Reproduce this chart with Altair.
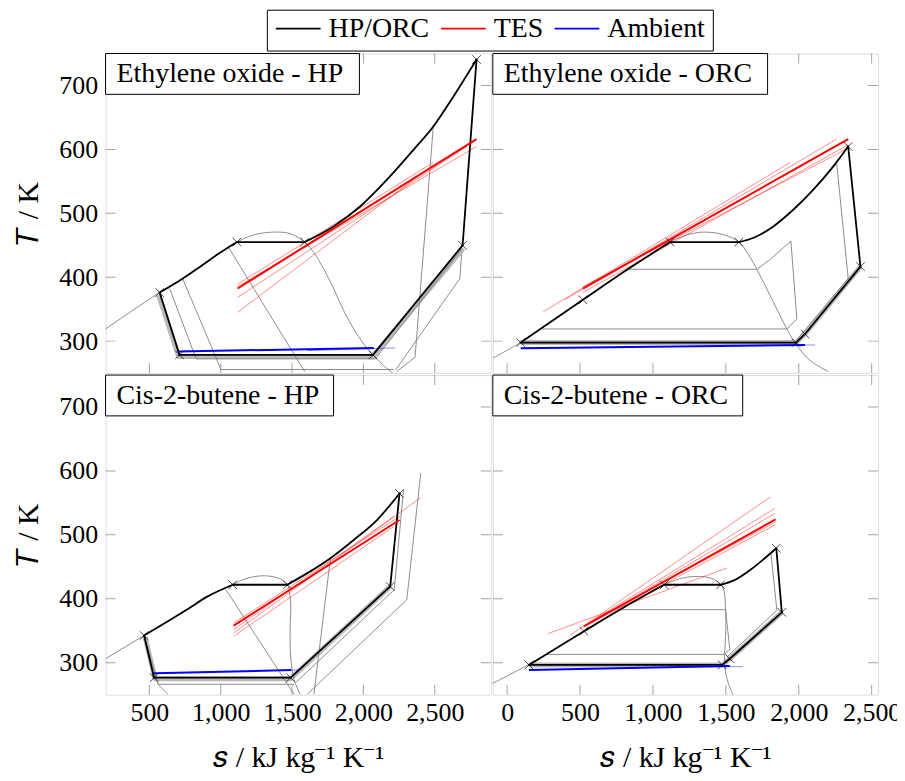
import altair as alt
import pandas as pd

FONT = "Liberation Serif"
FS = 26

# ---------------- axes / legend ----------------
X_TICKS_LEFT = [500, 1000, 1500, 2000, 2500]
X_TICKS_RIGHT = [0, 500, 1000, 1500, 2000, 2500]
Y_TICKS = [300, 400, 500, 600, 700]
X_DOMAIN_LEFT = [193, 2893]
X_DOMAIN_RIGHT = [-98, 2544]
Y_DOMAIN = [250, 750]
SERIES = ["HP/ORC", "TES", "Ambient"]
SERIES_COLORS = ["black", "red", "blue"]
TITLES = ["Ethylene oxide - HP", "Ethylene oxide - ORC", "Cis-2-butene - HP", "Cis-2-butene - ORC"]

# ---------------- Ethylene oxide - HP ----------------
EO_HP_CYCLE_S = [[572, 735, 863, 979, 1114], [1114, 1588], [1588, 1793, 1979, 2165, 2351, 2490, 2630, 2793],
                 [2695, 2793], [2067, 2695], [711, 2067], [572, 711]]
EO_HP_CYCLE_T = [[376, 398, 417.6, 435.8, 455], [455, 455], [455, 479.9, 511.1, 552.6, 599.3, 635.7, 682.4, 740.6],
                 [449.8, 740.6], [278.5, 449.8], [278.5, 278.5], [376, 278.5]]
EO_HP_MARK_S = [572, 1114, 1588, 2793, 2695, 2067, 711]
EO_HP_MARK_T = [376, 455, 455, 740.6, 449.8, 278.5, 278.5]
EO_HP_TES_S = [[1118, 2793], [1118, 2490], [1118, 2723], [1118, 2490], [1118, 2793]]
EO_HP_TES_T = [[382.3, 616], [389.1, 579.6], [368.3, 604.5], [345, 576], [385.4, 604.5]]
EO_HP_AMB_S = [[705, 2072], [1607, 2223]]
EO_HP_AMB_T = [[283.7, 289.4], [285.2, 289.4]]
EO_HP_DOME_S = [165, 572, 735, 863, 979, 1114, 1235, 1374, 1490, 1588, 1653, 1723, 1793, 1862, 1932, 2002, 2067, 2141, 2211]
EO_HP_DOME_T = [314.8, 376.1, 397.9, 417.6, 435.8, 455, 466.4, 470.6, 468, 455, 438.4, 412.4, 381.3, 347.5, 319, 295.6, 278.5, 261.9, 248.9]
EO_HP_GRAY_S = [[1049, 1588], [735, 1002], [642, 828], [828, 2083], [1002, 2211],
                [2490, 2362, 2234], [2688, 2676, 2223], [2083, 2688]]
EO_HP_GRAY_T = [[448.8, 252.5], [396.8, 255.6], [382.3, 272.2], [272.2, 272.2], [255.6, 255.6],
                [636, 274.8, 252.5], [435.8, 397.9, 254.1], [272.2, 443.6]]
EO_HP_BAND_S = [[565, 705, 2067, 2700]]
EO_HP_BAND_T = [[372, 276, 276, 445]]

# ---------------- Ethylene oxide - ORC ----------------
EO_ORC_CYCLE_S = [[93, 520, 827, 1118], [1118, 1589], [1589, 1691, 1828, 1964, 2100, 2237, 2339],
                  [2339, 2423], [2043, 2423], [1982, 2043], [93, 1982]]
EO_ORC_CYCLE_T = [[297.7, 364.7, 412.4, 455], [455, 455], [455, 461.8, 479.9, 505.9, 537, 573.4, 604.5],
                  [604.5, 416.6], [311.2, 416.6], [297.7, 311.2], [297.7, 297.7]]
EO_ORC_MARK_S = [93, 520, 1118, 1589, 2339, 2423, 2043, 1982]
EO_ORC_MARK_T = [297.7, 364.7, 455, 455, 604.5, 416.6, 311.2, 297.7]
EO_ORC_TES_S = [[520, 2339], [248, 1941], [395, 2259], [520, 2339], [520, 2339]]
EO_ORC_TES_T = [[382.3, 616], [346, 579.6], [364.7, 616], [376.1, 607.1], [385.4, 601.9]]
EO_ORC_AMB_S = [[93, 2043], [1900, 2112]]
EO_ORC_AMB_T = [[288.9, 294], [293.5, 294]]
EO_ORC_DOME_S = [-127.5, 93, 520, 827, 1118, 1236, 1350, 1487, 1589, 1668, 1759, 1850, 1918, 1987, 2078, 2203]
EO_ORC_DOME_T = [269.7, 298.2, 364.7, 412.4, 455, 466.4, 470.6, 466.4, 455, 430.6, 391.7, 350.1, 319, 293, 269.7, 252.5]
EO_ORC_GRAY_S = [[827, 1714, 1805, 1946, 1987, 1918, 236], [2259, 2339, 1987]]
EO_ORC_GRAY_T = [[412.4, 412.4, 428, 456.6, 334.6, 319, 319], [581.2, 397.9, 302.4]]
EO_ORC_BAND_S = [[93, 1982, 2043, 2423]]
EO_ORC_BAND_T = [[297.7, 297.7, 311.2, 416.6]]

# ---------------- Cis-2-butene - HP ----------------
C2B_HP_CYCLE_S = [[463, 630, 770, 909, 1084], [1084, 1467], [1467, 1607, 1769, 1932, 2095, 2253],
                  [2188, 2253], [1490, 2188], [533, 1490], [463, 533]]
C2B_HP_CYCLE_T = [[342.5, 364.8, 384, 403.7, 421.9], [421.9, 421.9], [421.9, 440.1, 463.5, 492, 523.2, 564.7],
                  [419.3, 564.7], [276.5, 419.3], [276.5, 276.5], [342.5, 276.5]]
C2B_HP_MARK_S = [463, 1084, 1467, 2253, 2188, 1490, 533]
C2B_HP_MARK_T = [342.5, 421.9, 421.9, 564.7, 419.3, 276.5, 276.5]
C2B_HP_TES_S = [[1091, 2253], [1091, 2211], [1091, 2211], [1091, 2402], [1091, 2258]]
C2B_HP_TES_T = [[358, 523.2], [351.8, 528.4], [341.4, 512.8], [346.6, 558.5], [362.2, 529.4]]
C2B_HP_AMB_S = [[533, 1495], [1400, 1549]]
C2B_HP_AMB_T = [[283.3, 288.5], [288, 288.5]]
C2B_HP_DOME_S = [165, 463, 630, 770, 909, 1084, 1165, 1305, 1421, 1467, 1490, 1486, 1490, 1514, 1560]
C2B_HP_DOME_T = [302.5, 342.5, 364.8, 384, 403.7, 421.9, 430.8, 436, 430.8, 421.9, 393.4, 351.8, 310.3, 273.9, 249]
C2B_HP_GRAY_S = [[1037, 1514], [463, 560, 630], [560, 1514], [1769, 1653],
                 [2402, 2304, 1607], [2281, 2216, 1525]]
C2B_HP_GRAY_T = [[414.1, 250.6], [342.5, 266.2, 250.6], [266.2, 266.2], [463.5, 250.6],
                 [596.9, 398.6, 250.6], [569.9, 414.1, 268.8]]
C2B_HP_BAND_S = [[470, 540, 1490, 2188]]
C2B_HP_BAND_T = [[340, 275, 275, 419.3]]

# ---------------- Cis-2-butene - ORC ----------------
C2B_ORC_CYCLE_S = [[150, 527, 805, 1077], [1077, 1464], [1464, 1555, 1668, 1759, 1846],
                   [1846, 1884], [1527, 1884], [1475, 1527], [150, 1475]]
C2B_ORC_CYCLE_T = [[296.5, 349.2, 387.1, 421.9], [421.9, 421.9], [421.9, 428.7, 445.3, 461.9, 479],
                   [479, 378.8], [306.1, 378.8], [296.5, 306.1], [296.5, 296.5]]
C2B_ORC_MARK_S = [150, 527, 1077, 1464, 1846, 1884, 1527, 1475]
C2B_ORC_MARK_T = [296.5, 349.2, 421.9, 421.9, 479, 378.8, 306.1, 296.5]
C2B_ORC_TES_S = [[527, 1841], [430, 1807], [282, 1507], [560, 1837], [540, 1837], [600, 1841], [520, 1841]]
C2B_ORC_TES_T = [[357, 524.3], [342.5, 559.5], [345.6, 448], [362, 541.4], [358, 533.6], [368, 520], [355, 516]]
C2B_ORC_AMB_S = [[150, 1527], [1400, 1618]]
C2B_ORC_AMB_T = [[288.5, 294.7], [294, 293.7]]
C2B_ORC_DOME_S = [-127.5, 150, 527, 805, 1077, 1236, 1396, 1475, 1498, 1498, 1491, 1509, 1550]
C2B_ORC_DOME_T = [264.6, 297.3, 349.2, 387.1, 421.9, 433.9, 432.3, 419.3, 383, 341.4, 299.9, 273.9, 249]
C2B_ORC_GRAY_S = [[759, 1498, 1527, 1487, 270], [1809, 1850, 1509]]
C2B_ORC_GRAY_T = [[383, 383, 320.7, 312.9, 312.9], [472.3, 382, 309.3]]
C2B_ORC_BAND_S = [[150, 1475, 1527, 1884]]
C2B_ORC_BAND_T = [[296.5, 296.5, 306.1, 378.8]]

PANELS = [
    dict(cs=EO_HP_CYCLE_S, ct=EO_HP_CYCLE_T, ms=EO_HP_MARK_S, mt=EO_HP_MARK_T, ts=EO_HP_TES_S, tt=EO_HP_TES_T,
         as_=EO_HP_AMB_S, at=EO_HP_AMB_T, ds=EO_HP_DOME_S, dt=EO_HP_DOME_T,
         gs=EO_HP_GRAY_S, gt=EO_HP_GRAY_T, bs=EO_HP_BAND_S, bt=EO_HP_BAND_T),
    dict(cs=EO_ORC_CYCLE_S, ct=EO_ORC_CYCLE_T, ms=EO_ORC_MARK_S, mt=EO_ORC_MARK_T, ts=EO_ORC_TES_S, tt=EO_ORC_TES_T,
         as_=EO_ORC_AMB_S, at=EO_ORC_AMB_T, ds=EO_ORC_DOME_S, dt=EO_ORC_DOME_T,
         gs=EO_ORC_GRAY_S, gt=EO_ORC_GRAY_T, bs=EO_ORC_BAND_S, bt=EO_ORC_BAND_T),
    dict(cs=C2B_HP_CYCLE_S, ct=C2B_HP_CYCLE_T, ms=C2B_HP_MARK_S, mt=C2B_HP_MARK_T, ts=C2B_HP_TES_S, tt=C2B_HP_TES_T,
         as_=C2B_HP_AMB_S, at=C2B_HP_AMB_T, ds=C2B_HP_DOME_S, dt=C2B_HP_DOME_T,
         gs=C2B_HP_GRAY_S, gt=C2B_HP_GRAY_T, bs=C2B_HP_BAND_S, bt=C2B_HP_BAND_T),
    dict(cs=C2B_ORC_CYCLE_S, ct=C2B_ORC_CYCLE_T, ms=C2B_ORC_MARK_S, mt=C2B_ORC_MARK_T, ts=C2B_ORC_TES_S, tt=C2B_ORC_TES_T,
         as_=C2B_ORC_AMB_S, at=C2B_ORC_AMB_T, ds=C2B_ORC_DOME_S, dt=C2B_ORC_DOME_T,
         gs=C2B_ORC_GRAY_S, gt=C2B_ORC_GRAY_T, bs=C2B_ORC_BAND_S, bt=C2B_ORC_BAND_T),
]
BOX_W = [255, 276, 229, 251]

W, H = 387, 321


def lines_df(s_lists, t_lists, series, prefix):
    rows = []
    for k, (ss, tt) in enumerate(zip(s_lists, t_lists)):
        for i, (s, t) in enumerate(zip(ss, tt)):
            rows.append({"line": f"{prefix}{k}", "i": i, "s": s, "T": t, "series": series})
    return pd.DataFrame(rows)


LEGEND = alt.Legend(
    title=None, orient="none", legendX=162, legendY=-44, direction="horizontal",
    symbolType="stroke", symbolSize=2025, symbolStrokeWidth=1.6, symbolOpacity=1,
    labelFont=FONT, labelFontSize=28, labelOffset=7, columnPadding=10, clipHeight=22,
    strokeColor="black", fillColor="white", padding=8, cornerRadius=0,
)
COLOR = alt.Color("series:N", scale=alt.Scale(domain=SERIES, range=SERIES_COLORS), legend=LEGEND)


def panel(idx, xdom, xticks, show_x, show_y):
    p = PANELS[idx]
    xaxis = alt.Axis(values=xticks, format=",d", title="𝑠 / kJ kg⁻¹ K⁻¹", ticks=False, domain=False,
                     grid=False, labelPadding=5, titlePadding=17, labelFont=FONT, labelFontSize=FS,
                     titleFont=FONT, titleFontSize=30, titleFontWeight="normal") if show_x else None
    yaxis = alt.Axis(values=Y_TICKS, title="𝑇 / K", ticks=False, domain=False, grid=False,
                     labelPadding=8, titlePadding=15, labelFont=FONT, labelFontSize=FS,
                     titleFont=FONT, titleFontSize=30, titleFontWeight="normal") if show_y else None
    X = alt.X("s:Q", scale=alt.Scale(domain=xdom, nice=False, zero=False), axis=xaxis)
    Y = alt.Y("T:Q", scale=alt.Scale(domain=Y_DOMAIN, nice=False, zero=False), axis=yaxis)

    def enc(chart, color=None):
        kw = dict(x=X, y=Y, detail="line:N", order="i:Q")
        if color is not None:
            kw["color"] = color
        return chart.encode(**kw)

    dome = enc(alt.Chart(lines_df([p["ds"]], [p["dt"]], "dome", "d")).mark_line(
        clip=True, color="#808080", strokeWidth=0.9, interpolate="catmull-rom"))
    gray = enc(alt.Chart(lines_df(p["gs"], p["gt"], "gray", "g")).mark_line(
        clip=True, color="#808080", strokeWidth=0.9))
    band = enc(alt.Chart(lines_df(p["bs"], p["bt"], "band", "b")).mark_line(
        clip=True, color="#808080", strokeWidth=5, opacity=0.55, strokeJoin="round"))
    tes_thin = enc(alt.Chart(lines_df(p["ts"][1:], p["tt"][1:], "TES", "t")).mark_line(
        clip=True, strokeWidth=1, opacity=0.45), COLOR)
    amb_thin = enc(alt.Chart(lines_df(p["as_"][1:], p["at"][1:], "Ambient", "a")).mark_line(
        clip=True, strokeWidth=1, opacity=0.45), COLOR)
    cycle = enc(alt.Chart(lines_df(p["cs"], p["ct"], "HP/ORC", "c")).mark_line(
        clip=True, strokeWidth=1.8, interpolate="monotone", strokeCap="round"), COLOR)
    tes = enc(alt.Chart(lines_df(p["ts"][:1], p["tt"][:1], "TES", "T")).mark_line(
        clip=True, strokeWidth=2), COLOR)
    amb = enc(alt.Chart(lines_df(p["as_"][:1], p["at"][:1], "Ambient", "A")).mark_line(
        clip=True, strokeWidth=2), COLOR)
    marks = alt.Chart(pd.DataFrame({"s": p["ms"], "T": p["mt"]})).mark_point(
        shape="M-1,-1L1,1M-1,1L1,-1", size=75, filled=False, color="black", strokeWidth=1,
        clip=True).encode(x=X, y=Y)

    xt = pd.DataFrame({"s": xticks * 2, "T": [Y_DOMAIN[0]] * len(xticks) + [Y_DOMAIN[1]] * len(xticks)})
    yt = pd.DataFrame({"s": [xdom[0]] * len(Y_TICKS) + [xdom[1]] * len(Y_TICKS), "T": Y_TICKS * 2})
    xtick = alt.Chart(xt).mark_tick(orient="vertical", size=20, thickness=1, color="#7a7a7a",
                                    clip=True).encode(x=X, y=Y)
    ytick = alt.Chart(yt).mark_tick(orient="horizontal", size=20, thickness=1, color="#7a7a7a",
                                    clip=True).encode(x=X, y=Y)

    lab = pd.DataFrame({"label": [TITLES[idx]]})
    box = alt.Chart(lab).mark_rect(fill="white", stroke="black", strokeWidth=1).encode(
        x=alt.value(0), x2=alt.value(BOX_W[idx]), y=alt.value(0), y2=alt.value(41))
    txt = alt.Chart(lab).mark_text(align="left", baseline="middle", font=FONT, fontSize=28,
                                   color="black").encode(x=alt.value(11), y=alt.value(21), text="label:N")

    return alt.layer(dome, gray, band, tes_thin, amb_thin, cycle, tes, amb, marks, xtick, ytick,
                     box, txt).properties(width=W, height=H)


top = alt.hconcat(panel(0, X_DOMAIN_LEFT, X_TICKS_LEFT, False, True),
                  panel(1, X_DOMAIN_RIGHT, X_TICKS_RIGHT, False, False), spacing=0)
bottom = alt.hconcat(panel(2, X_DOMAIN_LEFT, X_TICKS_LEFT, True, True),
                     panel(3, X_DOMAIN_RIGHT, X_TICKS_RIGHT, True, False), spacing=0)

chart = alt.vconcat(top, bottom, spacing=0).properties(
    padding={"left": 5, "top": -1, "right": -5, "bottom": 0}
).configure_view(stroke="black", strokeWidth=1.2).configure(font=FONT)

chart.save("out.html", embed_options={"renderer": "svg", "actions": False})
